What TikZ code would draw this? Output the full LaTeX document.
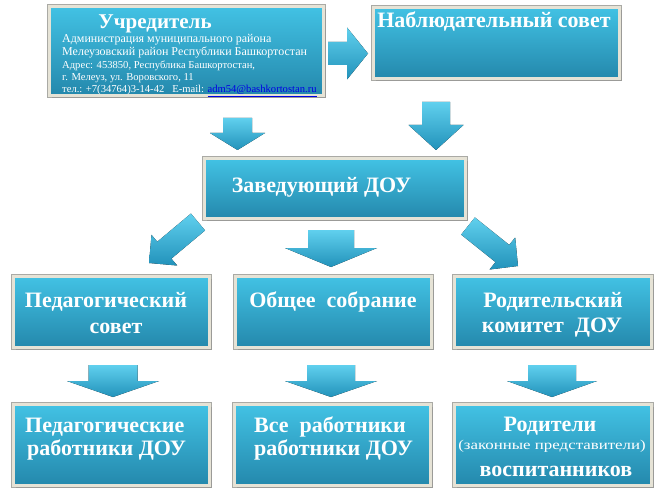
\documentclass[tikz,border=0pt]{standalone}
\usepackage{fontspec}
\usepackage{graphicx}
\setmainfont{Liberation Serif}
\usetikzlibrary{calc,shadows}
\definecolor{boxtop}{RGB}{66,194,228}
\definecolor{boxbot}{RGB}{36,136,172}
\definecolor{framec}{RGB}{230,227,214}
\definecolor{frameo}{RGB}{170,170,165}
\definecolor{arrtop}{RGB}{96,208,238}
\definecolor{arrbot}{RGB}{34,146,186}
\definecolor{maillink}{RGB}{0,0,230}
\newcommand\blockarrow[5]{%
  \coordinate (ba-h) at ($(#2)!#5!(#1)$);
  \fill[arrowfill] ($(#1)!#3/2!90:(#2)$) -- ($(ba-h)!#3/2!90:(#2)$) -- ($(ba-h)!#4/2!90:(#2)$) -- (#2)
     -- ($(ba-h)!#4/2!-90:(#2)$) -- ($(ba-h)!#3/2!-90:(#2)$) -- ($(#1)!#3/2!-90:(#2)$) -- cycle;}
\begin{document}
\begin{tikzpicture}[x=1pt,y=-1pt,
  box/.style={draw=framec, line width=3pt, top color=boxtop, bottom color=boxbot, inner sep=0pt,
     preaction={draw=frameo, line width=4.6pt},
     drop shadow={shadow xshift=2pt, shadow yshift=-2.5pt, opacity=0.35}},
  arrowfill/.style={top color=arrtop, bottom color=arrbot},
  big/.style={text=white, inner sep=0pt, anchor=base, font=\bfseries\fontsize{22}{24}\selectfont},
  small/.style={text=white, inner sep=0pt, anchor=base west},
]
\path[use as bounding box] (0,0) rectangle (664,500);

% boxes
\node[box, minimum width=274pt, minimum height=89pt] (uch) at (186.5,51) {};
\node[box, minimum width=246pt, minimum height=71pt] (nab) at (496.5,43) {};
\node[box, minimum width=261pt, minimum height=60pt] (zav) at (335,188.5) {};
\node[box, minimum width=196pt, minimum height=71pt] (ped) at (111.5,312) {};
\node[box, minimum width=196pt, minimum height=71pt] (obs) at (333.5,312) {};
\node[box, minimum width=197pt, minimum height=71pt] (rod) at (553,312) {};
\node[box, minimum width=196pt, minimum height=81pt] (pedr) at (111.5,445) {};
\node[box, minimum width=196pt, minimum height=81pt] (vse) at (332.5,445) {};
\node[box, minimum width=197pt, minimum height=81pt] (rodi) at (553,445) {};

% texts
\node[big, font=\bfseries\fontsize{21}{23}\selectfont] (t-uch) at (155,29) {Учредитель};
\node[small, font=\fontsize{12}{14}\selectfont] (u1) at (62,43) {Администрация муниципального района};
\node[small, font=\fontsize{12}{14}\selectfont] (u2) at (62,56) {Мелеузовский район Республики Башкортостан};
\node[small, font=\fontsize{10.6}{12}\selectfont] (u3) at (62,69) {Адрес: 453850, Республика Башкортостан,};
\node[small, font=\fontsize{10.6}{12}\selectfont] (u4) at (62,81) {г. Мелеуз, ул. Воровского, 11};
\node[small, font=\fontsize{10.6}{12}\selectfont] (u5) at (62,93) {тел.: +7(34764)3-14-42\ \ \ E-mail: {\color{maillink}\underline{adm54@bashkortostan.ru}}};
\node[big] (t-nab) at (494,28) {Наблюдательный совет};
\node[big] (t-zav) at (321.5,192) {Заведующий ДОУ};
\node[big] (t-ped1) at (106,307) {Педагогический};
\node[big] (t-ped2) at (116,333) {совет};
\node[big] (t-obs) at (333,307) {Общее\ \ собрание};
\node[big] (t-rod1) at (553,307) {Родительский};
\node[big] (t-rod2) at (552,332) {комитет\ \ ДОУ};
\node[big, anchor=base west] (t-pedr1) at (25,432) {Педагогические};
\node[big, anchor=base west] (t-pedr2) at (27,455) {работники ДОУ};
\node[big, anchor=base west] (t-vse1) at (254,432) {Все\ \ работники};
\node[big, anchor=base west] (t-vse2) at (254,455) {работники ДОУ};
\node[big] (t-rodi1) at (550,431) {Родители};
\node[big, font=\fontsize{13.5}{15}\selectfont] (t-rodi2) at (552,449) {\scalebox{1.25}[1]{(законные представители)}};
\node[big] (t-rodi3) at (556,476) {воспитанников};

% block arrows
\coordinate (a1s) at (328,53.5);  \coordinate (a1e) at (368,53.5);
\coordinate (a2s) at (237.5,118); \coordinate (a2e) at (237.5,150);
\coordinate (a3s) at (436,102);   \coordinate (a3e) at (436,150);
\coordinate (a4s) at (331,230);   \coordinate (a4e) at (331,267);
\coordinate (a5s) at (198,222);   \coordinate (a5e) at (149,263);
\coordinate (a6s) at (468,226);   \coordinate (a6e) at (518,266);
\coordinate (a7s) at (113,365);   \coordinate (a7e) at (113,397);
\coordinate (a8s) at (331,365);   \coordinate (a8e) at (331,397);
\coordinate (a9s) at (552,365);   \coordinate (a9e) at (552,397);
\blockarrow{a1s}{a1e}{23pt}{52pt}{21pt}
\blockarrow{a2s}{a2e}{29pt}{55pt}{17pt}
\blockarrow{a3s}{a3e}{28pt}{55pt}{25pt}
\blockarrow{a4s}{a4e}{46pt}{92pt}{19pt}
\blockarrow{a5s}{a5e}{22pt}{40pt}{20pt}
\blockarrow{a6s}{a6e}{22pt}{41pt}{20pt}
\blockarrow{a7s}{a7e}{49pt}{92pt}{16pt}
\blockarrow{a8s}{a8e}{48pt}{92pt}{16pt}
\blockarrow{a9s}{a9e}{48pt}{90pt}{16pt}
\end{tikzpicture}
\end{document}
